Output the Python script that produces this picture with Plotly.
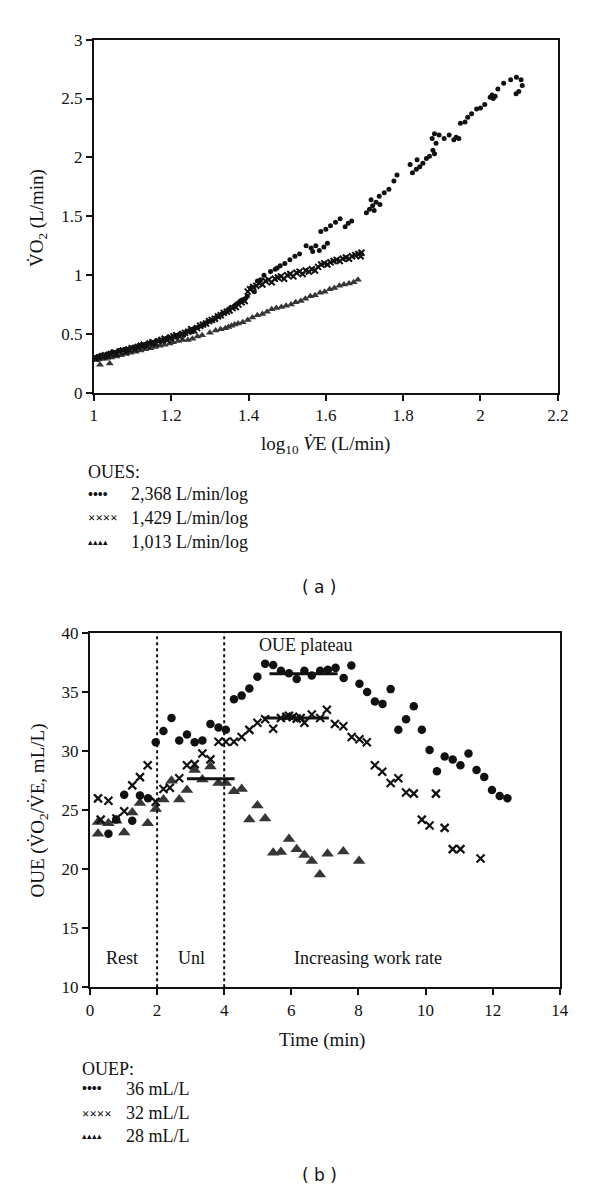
import plotly.graph_objects as go

# ---------------- Panel (a): VO2 vs log10 VE ----------------
oues_labels = ["2,368 L/min/log", "1,429 L/min/log", "1,013 L/min/log"]

a_circ_x = [1.002,1.010,1.018,1.024,1.033,1.041,1.048,1.056,1.064,1.071,1.079,1.087,1.094,1.102,1.110,1.117,1.125,1.133,
            1.141,1.148,1.156,1.163,1.171,1.179,1.186,1.194,1.202,1.209,1.217,1.224,1.232,1.240,1.247,1.255,1.262,1.270,
            1.278,1.285,1.293,1.300,1.308,1.316,1.323,1.331,1.338,1.346,1.353,1.361,1.368,1.376,1.383,1.391,1.397,1.406,
            1.415,1.423,1.431,1.440,1.457,1.469,1.474,1.482,1.494,1.507,1.520,1.532,1.549,1.562,1.566,1.574,1.583,1.595,
            1.604,1.587,1.600,1.612,1.625,1.637,1.650,1.658,1.667,1.705,1.713,1.717,1.721,1.725,1.730,1.738,1.740,1.751,
            1.763,1.776,1.784,1.818,1.824,1.834,1.836,1.843,1.851,1.860,1.868,1.875,1.877,1.881,1.881,1.885,1.893,1.906,
            1.919,1.931,1.937,1.944,1.948,1.960,1.967,1.977,1.990,2.000,2.011,2.025,2.030,2.033,2.038,2.045,2.060,2.078,
            2.093,2.105,2.108,2.099,2.092]
a_circ_y = [0.30,0.31,0.32,0.31,0.33,0.33,0.35,0.34,0.36,0.36,0.37,0.36,0.38,0.39,0.38,0.40,0.41,0.40,
            0.42,0.43,0.42,0.44,0.45,0.44,0.46,0.47,0.46,0.48,0.49,0.50,0.49,0.52,0.53,0.52,0.55,0.56,
            0.57,0.58,0.60,0.61,0.62,0.64,0.65,0.67,0.68,0.70,0.72,0.73,0.75,0.77,0.79,0.80,0.82,0.89,
            0.86,0.95,0.96,1.00,1.03,1.05,1.06,1.08,1.10,1.13,1.16,1.18,1.25,1.23,1.20,1.25,1.21,1.24,
            1.27,1.37,1.39,1.42,1.45,1.48,1.41,1.44,1.46,1.53,1.56,1.64,1.59,1.55,1.62,1.67,1.60,1.70,
            1.73,1.80,1.85,1.94,1.87,1.90,1.98,1.92,1.95,1.99,2.01,2.16,2.06,2.03,2.20,2.12,2.19,2.16,
            2.19,2.15,2.17,2.16,2.29,2.30,2.34,2.37,2.41,2.42,2.45,2.51,2.53,2.50,2.52,2.58,2.63,2.66,
            2.68,2.66,2.61,2.56,2.54]

a_cross_x = [1.005,1.013,1.021,1.029,1.036,1.044,1.052,1.059,1.067,1.075,1.083,1.090,1.098,1.106,1.114,1.121,1.129,
             1.137,1.144,1.152,1.160,1.167,1.175,1.183,1.190,1.198,1.206,1.213,1.221,1.229,1.236,1.244,1.252,1.259,
             1.267,1.275,1.282,1.290,1.298,1.305,1.313,1.321,1.328,1.336,1.344,1.351,1.359,1.367,1.374,1.382,1.390,
             1.398,1.404,1.412,1.420,1.428,1.436,1.444,1.452,1.460,1.468,1.476,1.484,1.492,1.500,1.508,1.516,1.524,
             1.532,1.540,1.548,1.556,1.564,1.572,1.580,1.588,1.596,1.604,1.612,1.620,1.628,1.636,1.644,1.652,1.660,
             1.668,1.676,1.684,1.690,1.692]
a_cross_y = [0.29,0.30,0.31,0.32,0.31,0.33,0.34,0.33,0.35,0.36,0.35,0.37,0.38,0.37,0.39,0.40,0.41,
             0.40,0.42,0.43,0.42,0.44,0.45,0.46,0.45,0.47,0.48,0.49,0.48,0.50,0.51,0.52,0.54,0.53,
             0.55,0.57,0.58,0.59,0.61,0.62,0.63,0.65,0.66,0.68,0.69,0.70,0.72,0.73,0.75,0.77,0.78,
             0.86,0.88,0.90,0.91,0.93,0.92,0.95,0.96,0.94,0.97,0.98,0.99,0.97,1.00,1.01,0.99,1.02,
             1.03,1.01,1.04,1.03,1.05,1.04,1.07,1.09,1.10,1.09,1.11,1.12,1.13,1.12,1.14,1.15,1.14,
             1.16,1.17,1.18,1.16,1.19]

a_tri_x = [1.016,1.041,1.008,1.020,1.030,1.045,1.058,1.070,1.083,1.095,1.108,1.121,1.133,1.146,1.158,1.171,1.183,
           1.196,1.205,1.218,1.230,1.243,1.255,1.268,1.280,1.300,1.315,1.328,1.340,1.348,1.356,1.364,1.373,1.385,
           1.398,1.410,1.423,1.436,1.448,1.460,1.472,1.485,1.497,1.510,1.522,1.535,1.547,1.560,1.572,1.585,1.597,
           1.610,1.622,1.635,1.647,1.660,1.672,1.683]
a_tri_y = [0.24,0.25,0.28,0.29,0.29,0.30,0.31,0.32,0.33,0.34,0.35,0.36,0.37,0.38,0.39,0.40,0.41,
           0.42,0.43,0.44,0.45,0.45,0.46,0.48,0.49,0.51,0.53,0.54,0.55,0.56,0.57,0.58,0.59,0.60,
           0.62,0.64,0.66,0.67,0.69,0.71,0.72,0.73,0.74,0.75,0.77,0.78,0.80,0.82,0.83,0.85,0.86,
           0.88,0.89,0.91,0.92,0.93,0.94,0.96]

# ---------------- Panel (b): OUE vs time ----------------
ouep_labels = ["36 mL/L", "32 mL/L", "28 mL/L"]
phase_bounds = [2, 4]
phase_names = ["Rest", "Unl", "Increasing work rate"]

b_circ_t = [0.55,0.78,1.02,1.26,1.49,1.73,1.96,2.19,2.43,2.66,2.89,3.12,3.35,3.59,3.83,4.05,4.29,4.52,4.75,4.99,
            5.22,5.46,5.69,5.93,6.16,6.39,6.61,6.86,7.09,7.32,7.56,7.79,8.03,8.26,8.49,8.72,8.96,9.19,9.42,9.65,
            9.89,10.12,10.34,10.57,10.81,11.04,11.28,11.52,11.75,11.98,12.21,12.44]
b_circ_v = [23.0,24.2,26.3,24.1,26.25,26.0,30.75,31.7,32.8,30.9,31.4,30.75,30.9,32.3,32.0,31.8,34.4,34.7,35.3,36.3,
            37.4,37.3,36.8,36.6,36.1,36.8,36.4,36.8,36.9,37.05,36.2,37.25,35.7,35.0,34.2,34.0,35.25,31.8,32.7,33.8,
            31.8,30.1,28.3,29.55,29.3,28.8,29.8,28.4,27.8,26.7,26.2,26.0]

b_cross_t = [0.24,0.32,0.55,0.79,1.02,1.26,1.49,1.72,1.96,2.19,2.38,2.66,2.89,3.12,3.35,3.59,3.83,4.05,4.29,4.52,
             4.75,4.99,5.22,5.46,5.69,5.85,5.93,6.05,6.16,6.28,6.39,6.61,6.86,7.06,7.30,7.55,7.80,8.03,8.25,8.49,
             8.71,8.96,9.19,9.42,9.65,9.89,10.12,10.31,10.57,10.81,11.04,11.64]
b_cross_v = [26.0,24.2,25.8,24.3,24.9,27.1,27.8,28.8,25.7,26.8,26.9,27.7,28.8,28.9,29.8,29.3,30.8,30.8,30.8,31.2,
             31.8,32.4,32.7,31.9,32.8,32.9,33.0,32.9,32.75,32.8,32.4,33.1,32.8,33.5,32.3,32.1,31.2,31.0,30.75,28.8,
             28.25,27.3,27.7,26.5,26.4,24.2,23.7,26.4,23.5,21.7,21.7,20.9]

b_tri_t = [0.24,0.24,0.55,0.78,1.02,1.26,1.49,1.72,1.96,2.19,2.43,2.66,2.89,3.12,3.35,3.59,3.83,4.05,4.29,4.52,
           4.75,4.99,5.22,5.46,5.69,5.93,6.16,6.39,6.61,6.85,7.08,7.55,8.02]
b_tri_v = [23.0,24.0,23.9,24.1,23.1,24.8,25.6,23.9,25.1,25.9,27.5,25.9,26.7,28.4,27.6,28.7,27.3,27.3,26.6,26.8,
           24.2,25.4,24.3,21.4,21.45,22.55,21.7,21.2,20.7,19.55,21.3,21.5,20.7]

plateau_circ_t = [5.35, 7.38]; plateau_circ_v = [36.55, 36.55]
plateau_cross_t = [5.16, 7.12]; plateau_cross_v = [32.8, 32.8]
plateau_tri_t = [2.89, 4.31]; plateau_tri_v = [27.65, 27.65]

SERIF = "Liberation Serif"
BLACK = "#111111"
GREY = "#363636"

fig = go.Figure()

# panel a traces
fig.add_trace(go.Scatter(x=a_tri_x, y=a_tri_y, mode="markers", xaxis="x", yaxis="y",
                         marker=dict(symbol="triangle-up", size=7, color=GREY), showlegend=False))
fig.add_trace(go.Scatter(x=a_cross_x, y=a_cross_y, mode="markers", xaxis="x", yaxis="y",
                         marker=dict(symbol="x-thin", size=6, color=BLACK, line=dict(width=2, color=BLACK)),
                         showlegend=False))
fig.add_trace(go.Scatter(x=a_circ_x, y=a_circ_y, mode="markers", xaxis="x", yaxis="y",
                         marker=dict(symbol="circle", size=5, color=BLACK), showlegend=False))

# panel b traces
fig.add_trace(go.Scatter(x=b_tri_t, y=b_tri_v, mode="markers", xaxis="x2", yaxis="y2",
                         marker=dict(symbol="triangle-up", size=11, color=GREY), showlegend=False))
fig.add_trace(go.Scatter(x=b_cross_t, y=b_cross_v, mode="markers", xaxis="x2", yaxis="y2",
                         marker=dict(symbol="x-thin", size=8, color=BLACK, line=dict(width=2.2, color=BLACK)),
                         showlegend=False))
fig.add_trace(go.Scatter(x=b_circ_t, y=b_circ_v, mode="markers", xaxis="x2", yaxis="y2",
                         marker=dict(symbol="circle", size=8.5, color=BLACK), showlegend=False))
for px_, pv_ in [(plateau_circ_t, plateau_circ_v), (plateau_cross_t, plateau_cross_v), (plateau_tri_t, plateau_tri_v)]:
    fig.add_trace(go.Scatter(x=px_, y=pv_, mode="lines", xaxis="x2", yaxis="y2",
                             line=dict(color=BLACK, width=3), showlegend=False))

for xb in phase_bounds:
    fig.add_shape(type="line", xref="x2", yref="y2", x0=xb, x1=xb, y0=10, y1=40,
                  line=dict(color=BLACK, width=2, dash="dot"))

# the page body adds an 8px margin; size the figure so it fits the window exactly
OFF = 8
W, H = 600 - OFF, 1201 - OFF
def px(x):
    return (x - OFF) / W
def py(y):
    return 1 - (y - OFF) / H

axis_common = dict(showline=True, linecolor=BLACK, linewidth=2, mirror=True, ticks="outside",
                   ticklen=6, tickwidth=1.5, tickcolor=BLACK, showgrid=False, zeroline=False,
                   tickfont=dict(family=SERIF, size=17, color=BLACK))

fig.update_layout(
    width=W, height=H, autosize=False,
    margin=dict(l=0, r=0, t=0, b=0),
    paper_bgcolor="white", plot_bgcolor="white",
    xaxis=dict(domain=[px(92), px(568)], range=[1, 2.2], dtick=0.2, tick0=1, anchor="y", **axis_common),
    yaxis=dict(domain=[py(390), py(31)], range=[0, 3], dtick=0.5, anchor="x", **axis_common),
    xaxis2=dict(domain=[px(88), px(570)], range=[0, 14], dtick=2, anchor="y2", **axis_common),
    yaxis2=dict(domain=[py(994), py(634)], range=[10, 40], dtick=5, anchor="x2", **axis_common),
)

ann = []
def text(x, y, s, size=18, xanchor="center", angle=0, family=SERIF):
    ann.append(dict(x=px(x), y=py(y), xref="paper", yref="paper", text=s, showarrow=False,
                    xanchor=xanchor, yanchor="middle", textangle=angle,
                    font=dict(family=family, size=size, color=BLACK)))

# axis titles
text(35, 212, "V̇O<sub>2</sub> (L/min)", size=19, angle=-90)
text(330, 443, "log<sub>10</sub> <i>V̇</i>E (L/min)", size=19)
text(35, 814, "OUE (V̇O<sub>2</sub>/V̇E, mL/L)", size=19, angle=-90)
text(326, 1048, "Time (min)", size=19)

# legend a
text(84, 470, "OUES:", xanchor="left")
text(84, 493, "<b>••••</b>", size=14, xanchor="left")
text(84, 517, "<b>××××</b>", size=13, xanchor="left")
text(84, 542, "▴▴▴▴", size=9, xanchor="left")
text(128, 493, oues_labels[0], xanchor="left")
text(128, 517, oues_labels[1], xanchor="left")
text(128, 542, oues_labels[2], xanchor="left")
text(323, 587, "( a )", size=17, family="DejaVu Sans")

# legend b
text(78, 1077, "OUEP:", xanchor="left")
text(78, 1097, "<b>••••</b>", size=14, xanchor="left")
text(78, 1122, "<b>××××</b>", size=13, xanchor="left")
text(78, 1145, "▴▴▴▴", size=9, xanchor="left")
text(123, 1097, ouep_labels[0], xanchor="left")
text(123, 1122, ouep_labels[1], xanchor="left")
text(123, 1145, ouep_labels[2], xanchor="left")
text(323, 1185, "( b )", size=17, family="DejaVu Sans")

fig.update_layout(annotations=ann)

# in-plot labels (data coordinates)
fig.add_annotation(x=0.96, y=12.45, xref="x2", yref="y2", text=phase_names[0], showarrow=False,
                   font=dict(family=SERIF, size=18, color=BLACK))
fig.add_annotation(x=3.04, y=12.45, xref="x2", yref="y2", text=phase_names[1], showarrow=False,
                   font=dict(family=SERIF, size=18, color=BLACK))
fig.add_annotation(x=8.29, y=12.5, xref="x2", yref="y2", text=phase_names[2], showarrow=False,
                   font=dict(family=SERIF, size=18, color=BLACK))
fig.add_annotation(x=6.43, y=39.0, xref="x2", yref="y2", text="OUE plateau", showarrow=False,
                   font=dict(family=SERIF, size=18, color=BLACK))

fig.write_html("out.html")
